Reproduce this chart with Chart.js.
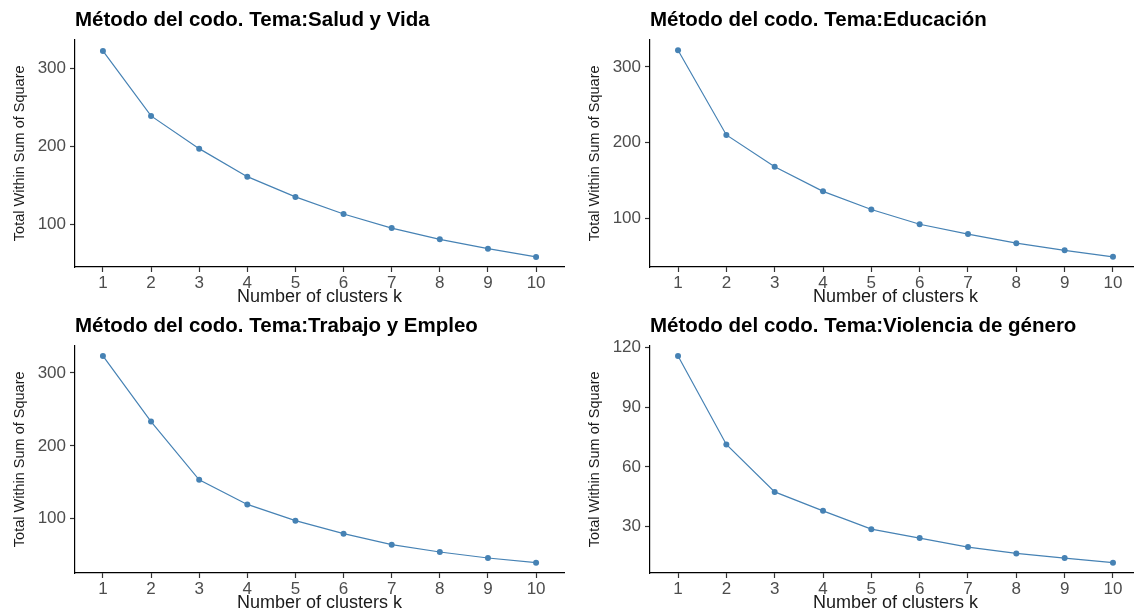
<!DOCTYPE html>
<html>
<head>
<meta charset="utf-8">
<script src="https://cdn.jsdelivr.net/npm/chart.js@4.4.1/dist/chart.umd.min.js"></script>
<style>
  html, body { margin: 0; padding: 0; background: #fff; }
  body { width: 1134px; height: 613px; overflow: hidden; position: relative; }
  canvas { position: absolute; }
</style>
</head>
<body>
<canvas id="chartSalud" width="568" height="306" style="left:0px;top:0px"></canvas>
<canvas id="chartEducacion" width="570" height="306" style="left:575px;top:0px"></canvas>
<canvas id="chartTrabajo" width="568" height="306" style="left:0px;top:306px"></canvas>
<canvas id="chartViolencia" width="570" height="306" style="left:575px;top:306px"></canvas>
<script>
// Data
const clusters = [1, 2, 3, 4, 5, 6, 7, 8, 9, 10];
const saludValues = [322.5, 239, 197, 161, 135, 113, 95, 80.5, 68.5, 58];
const educacionValues = [322, 210, 168, 135.5, 111.5, 92, 79, 67, 57.5, 49];
const trabajoValues = [323.3, 233.3, 153.4, 119.6, 97.3, 79.5, 64.4, 54.3, 46.1, 39.7];
const violenciaValues = [115.7, 71.3, 47.5, 38, 28.8, 24.3, 19.8, 16.6, 14.3, 12];

const ticksWss = [100, 200, 300];
const ticksViolencia = [30, 60, 90, 120];

const titlePrefix = 'Método del codo. Tema:';
const xTitle = 'Number of clusters k';
const yTitle = 'Total Within Sum of Square';

const FONT = "'Liberation Sans', Arial, sans-serif";
const LINE_COLOR = '#4682B4';

const chartRegistry = {};

function makeElbowChart(canvasId, tema, values, yTicks, yMin, yMax) {
    const canvas = document.getElementById(canvasId);
    if (!canvas) return null;

    const points = clusters.map((k, i) => ({ x: k, y: values[i] }));

    const chart = new Chart(canvas.getContext('2d'), {
        type: 'line',
        data: {
            datasets: [{
                data: points,
                borderColor: LINE_COLOR,
                backgroundColor: LINE_COLOR,
                borderWidth: 1.2,
                pointRadius: 3,
                pointBorderWidth: 0,
                pointBackgroundColor: LINE_COLOR,
                tension: 0
            }]
        },
        options: {
            responsive: false,
            animation: false,
            devicePixelRatio: 1,
            layout: { padding: 0 },
            plugins: {
                legend: { display: false },
                tooltip: { enabled: false },
                title: {
                    display: true,
                    text: titlePrefix + tema,
                    align: 'start',
                    fullSize: false,
                    color: '#000',
                    font: { family: FONT, size: 20.5, weight: 'bold' },
                    padding: { top: 8, bottom: 7 }
                }
            },
            scales: {
                x: {
                    type: 'linear',
                    min: 0.42,
                    max: 10.58,
                    afterBuildTicks: axis => { axis.ticks = clusters.map(v => ({ value: v })); },
                    afterFit: scale => { scale.height = 39; },
                    grid: {
                        drawOnChartArea: false, drawTicks: true, tickLength: 5,
                        tickColor: '#333', tickWidth: 1.2, color: '#333'
                    },
                    border: { display: true, color: '#000', width: 1.2 },
                    ticks: {
                        color: '#4D4D4D',
                        font: { family: FONT, size: 17 },
                        padding: 1,
                        maxRotation: 0,
                        autoSkip: false
                    },
                    title: {
                        display: true,
                        text: xTitle,
                        color: '#1a1a1a',
                        font: { family: FONT, size: 18, lineHeight: 1 },
                        padding: { top: 0, bottom: 0 }
                    }
                },
                y: {
                    type: 'linear',
                    min: yMin,
                    max: yMax,
                    afterBuildTicks: axis => { axis.ticks = yTicks.map(v => ({ value: v })); },
                    afterFit: scale => { scale.width = 75; },
                    grid: {
                        drawOnChartArea: false, drawTicks: true, tickLength: 5,
                        tickColor: '#333', tickWidth: 1.2, color: '#333'
                    },
                    border: { display: true, color: '#000', width: 1.2 },
                    ticks: {
                        color: '#4D4D4D',
                        font: { family: FONT, size: 17 },
                        padding: 4
                    },
                    title: {
                        display: true,
                        text: yTitle,
                        color: '#1a1a1a',
                        font: { family: FONT, size: 14.5 },
                        padding: { top: 11, bottom: 0 }
                    }
                }
            }
        }
    });
    chartRegistry[canvasId] = chart;
    return chart;
}

makeElbowChart('chartSalud', 'Salud y Vida', saludValues, ticksWss, 45, 337);
makeElbowChart('chartEducacion', 'Educación', educacionValues, ticksWss, 35.5, 336);
makeElbowChart('chartTrabajo', 'Trabajo y Empleo', trabajoValues, ticksWss, 25.5, 337.5);
makeElbowChart('chartViolencia', 'Violencia de género', violenciaValues, ticksViolencia, 6.8, 120.9);
</script>
</body>
</html>
